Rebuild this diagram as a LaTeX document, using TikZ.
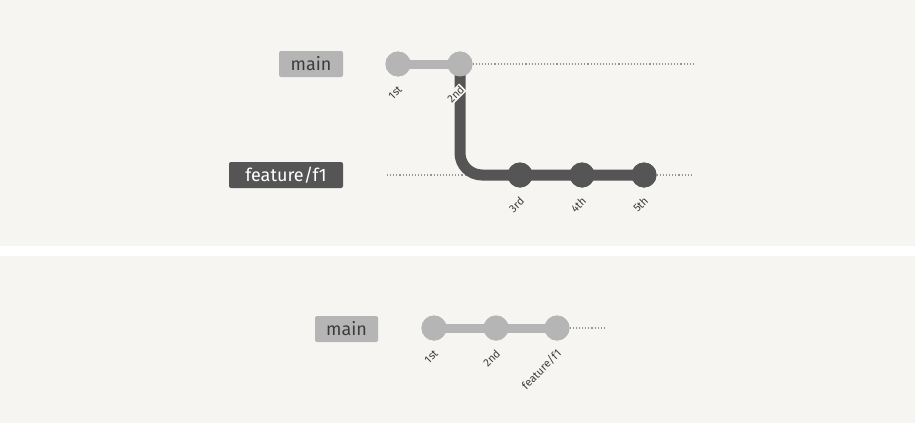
\documentclass[tikz,border=0pt]{standalone}
\usepackage{fontspec}
\setmainfont{Fira Sans}
\definecolor{panel}{HTML}{F6F5F1}
\definecolor{lightc}{HTML}{B5B5B5}
\definecolor{darkc}{HTML}{555555}
\definecolor{txtc}{HTML}{3C3C3C}
\definecolor{dotc}{HTML}{959595}
\begin{document}
\begin{tikzpicture}[x=1pt,y=-1pt,
    commit/.style={circle,minimum size=25pt,inner sep=0pt},
    branchlbl/.style={rounded corners=2pt,minimum height=26pt,inner sep=0pt,font=\fontsize{18}{20}\selectfont},
    tag/.style={rotate=45,anchor=east,fill=panel,inner sep=1pt,text=txtc,font=\fontsize{11}{13}\selectfont},
    track/.style={dotc,line width=1.1pt,dash pattern=on 1.1pt off 2pt}]
        \def\dx{3pt}
        \def\dy{-23pt}
        \fill [white] (0,0) rectangle (915,423);
        \fill [panel] (0,0) rectangle (915,246);
        \fill [panel] (0,256) rectangle (915,423);
        \useasboundingbox (0,0) rectangle (915,423);
        % before merge
        \node [branchlbl,fill=lightc,text=txtc,minimum width=64pt] (main) at (311,64) {main};
        \node [branchlbl,fill=darkc,text=white,minimum width=114pt] (feat) at (286,175) {feature/f1};
        \coordinate (m end) at (693,64);
        \coordinate (f start) at (387,175);
        \coordinate (f end) at (693,175);
        \node [commit,fill=lightc] (c1) at (398,64) {};
        \node [commit,fill=lightc] (c2) at (460,64) {};
        \node [commit,fill=darkc] (c3) at (520,175) {};
        \node [commit,fill=darkc] (c4) at (582,175) {};
        \node [commit,fill=darkc] (c5) at (644,175) {};
        \draw [track] (c2) -- (m end);
        \draw [track] (f start) -- (f end);
        \draw [darkc,line width=11pt,rounded corners=22pt] (c2.center) |- (c5.center);
        \draw [lightc,line width=9pt] (c1.center) -- (c2.center);
        \node [commit,fill=lightc] at (c1) {};
        \node [commit,fill=lightc] at (c2) {};
        \foreach \c/\t in {c3/3rd,c4/4th,c5/5th}
            \node [commit,fill=darkc] at (\c) {};
        \foreach \c/\t in {c1/1st,c2/2nd,c3/3rd,c4/4th,c5/5th}
            \node [tag] (t-\c) at ([xshift=\dx,yshift=\dy]\c.center) {\t};
        % after merge
        \node [branchlbl,fill=lightc,text=txtc,minimum width=63pt] (main2) at (346.5,329) {main};
        \coordinate (b end) at (606,328);
        \node [commit,fill=lightc] (b1) at (434,328) {};
        \node [commit,fill=lightc] (b2) at (496,328) {};
        \node [commit,fill=lightc] (b3) at (557,328) {};
        \draw [track] (b3) -- (b end);
        \draw [lightc,line width=9pt] (b1.center) -- (b3.center);
        \foreach \c in {b1,b2,b3}
            \node [commit,fill=lightc] at (\c) {};
        \foreach \c/\t in {b1/1st,b2/2nd,b3/feature\slash f1}
            \node [tag] (t-\c) at ([xshift=\dx,yshift=\dy]\c.center) {\t};
\end{tikzpicture}
\end{document}
